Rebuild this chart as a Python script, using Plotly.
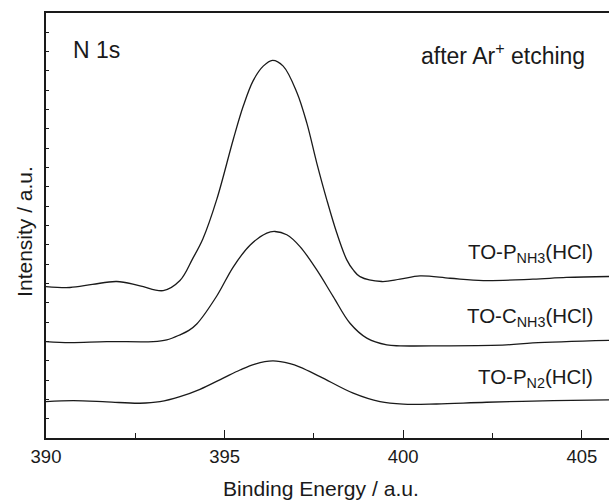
import plotly.graph_objects as go

# Binding energy (eV) / intensity (arbitrary, offset)
x_p_nh3 = [390.0, 390.67, 391.3, 391.98, 392.63, 393.28, 393.75, 394.11, 394.39, 394.78, 395.24, 395.52,
           395.80, 396.08, 396.34, 396.64, 397.02, 397.30, 397.58, 397.86, 398.14, 398.42, 398.60, 398.79,
           399.40, 399.91, 400.47, 401.31, 402.24, 403.63, 404.57, 405.76]
y_p_nh3 = [7.84, 7.79, 7.95, 8.10, 7.88, 7.63, 8.15, 9.30, 10.30, 12.35, 15.44, 17.17,
           18.50, 19.25, 19.55, 19.25, 17.90, 16.31, 14.23, 12.33, 10.61, 9.22, 8.70, 8.35,
           8.10, 8.22, 8.39, 8.27, 8.15, 8.22, 8.31, 8.36]

x_c_nh3 = [390.0, 390.67, 391.70, 393.0, 393.38, 393.75, 394.0, 394.22, 394.78, 395.24, 395.71, 396.18,
           396.41, 396.74, 397.11, 397.58, 398.04, 398.51, 398.98, 399.54, 399.91, 401.03, 402.89,
           403.63, 405.76]
y_c_nh3 = [4.99, 4.94, 4.99, 4.99, 5.08, 5.34, 5.57, 5.90, 7.35, 8.85, 9.98, 10.61,
           10.69, 10.52, 9.91, 8.70, 7.32, 5.94, 5.17, 4.82, 4.77, 4.77, 4.82,
           4.92, 5.05]

x_p_n2 = [390.0, 390.76, 391.70, 392.63, 393.19, 393.75, 394.31, 394.96, 395.43, 395.85, 396.35, 396.83,
          397.11, 397.67, 398.60, 399.35, 400.0, 400.93, 402.33, 404.20, 405.76]
y_p_n2 = [1.88, 1.93, 1.87, 1.80, 1.88, 2.14, 2.52, 3.10, 3.52, 3.83, 3.99, 3.85,
          3.67, 3.18, 2.32, 1.88, 1.75, 1.76, 1.85, 1.93, 1.97]

labels = ["TO-P<sub>NH3</sub>(HCl)", "TO-C<sub>NH3</sub>(HCl)", "TO-P<sub>N2</sub>(HCl)"]
label_y = [9.60, 6.24, 3.09]
x_ticks = [390, 395, 400, 405]

FONT = "Liberation Sans, Arial, Helvetica, sans-serif"
INK = "#1a1a1a"

fig = go.Figure()
for xs, ys in [(x_p_nh3, y_p_nh3), (x_c_nh3, y_c_nh3), (x_p_n2, y_p_n2)]:
    fig.add_trace(go.Scatter(x=xs, y=ys, mode="lines",
                             line=dict(color=INK, width=1.3, shape="spline", smoothing=1.0),
                             showlegend=False, hoverinfo="skip"))

for lab, ly in zip(labels, label_y):
    fig.add_annotation(x=405.37, y=ly, text=lab, showarrow=False, xanchor="right", yanchor="middle",
                       font=dict(size=20.5, color=INK, family=FONT))

fig.add_annotation(x=390.70, y=20.08, text="N 1s", showarrow=False, xanchor="left", yanchor="middle",
                   font=dict(size=23, color=INK, family=FONT))
fig.add_annotation(x=405.15, y=19.88, text="after Ar<sup>+</sup> etching", showarrow=False,
                   xanchor="right", yanchor="middle", font=dict(size=23, color=INK, family=FONT))

# axis titles (placed as annotations so they can sit exactly where the reference has them)
fig.add_annotation(xref="paper", yref="paper", x=0.488, y=-0.088, text="Binding Energy / a.u.",
                   showarrow=False, xanchor="center", yanchor="top",
                   font=dict(size=21.1, color=INK, family=FONT))
fig.add_annotation(xref="paper", yref="paper", x=-0.0373, y=0.485, text="Intensity / a.u.",
                   showarrow=False, xanchor="center", yanchor="middle", textangle=-90,
                   font=dict(size=21, color=INK, family=FONT))

fig.update_layout(
    width=609, height=500,
    margin=dict(l=46, r=0, t=13, b=62),
    paper_bgcolor="white", plot_bgcolor="white",
    font=dict(family=FONT, color=INK),
    xaxis=dict(range=[390, 405.76], tickvals=x_ticks, ticks="inside", ticklen=8, tickwidth=1.3,
               tickcolor=INK, showline=True, linecolor=INK, linewidth=1.5, mirror=True,
               showgrid=False, zeroline=False, tickfont=dict(size=18.5, color=INK),
               ticklabelstandoff=1, automargin=False,
               minor=dict(dtick=2.5, tick0=390, ticks="inside", ticklen=5, tickwidth=1.3, tickcolor=INK,
                          showgrid=False)),
    yaxis=dict(range=[0, 22], dtick=1, tick0=0, ticks="inside", ticklen=3.5, tickwidth=1.2,
               tickcolor=INK, showticklabels=False, showline=True, linecolor=INK, linewidth=1.5,
               mirror=False, showgrid=False, zeroline=False, automargin=False),
)

fig.write_html("out.html", post_script="document.body.style.margin='0';",
               config={"displayModeBar": False})
